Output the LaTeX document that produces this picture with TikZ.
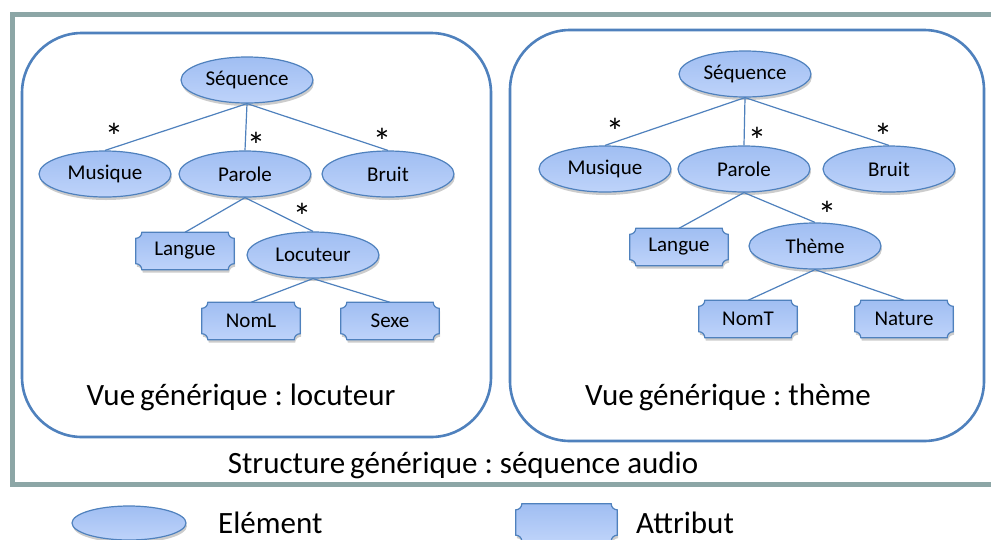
\documentclass[tikz,border=0pt]{standalone}
\usepackage{fontspec}
\setmainfont{Carlito}
\usetikzlibrary{shapes.geometric,shadows}
\definecolor{lineblue}{RGB}{79,129,189}
\definecolor{framegray}{RGB}{140,166,166}
\definecolor{filltop}{RGB}{160,190,242}
\definecolor{fillbot}{RGB}{190,211,250}
\pgfdeclarelayer{back}
\pgfdeclarelayer{bg}
\pgfsetlayers{back,bg,main}
\frenchspacing
\newcommand\attrpath[2]{%
  \path[#1] ([xshift=6pt]#2.north west) -- ([xshift=-6pt]#2.north east)
    arc[start angle=180,end angle=270,radius=6pt] -- ([yshift=6pt]#2.south east)
    arc[start angle=90,end angle=180,radius=6pt] -- ([xshift=6pt]#2.south west)
    arc[start angle=0,end angle=90,radius=6pt] -- ([yshift=-6pt]#2.north west)
    arc[start angle=270,end angle=360,radius=6pt] -- cycle;}
\newcommand\attrframe[1]{%
  \begin{pgfonlayer}{bg}
    \begin{scope}[transform canvas={shift={(1pt,-3pt)}}]
      \attrpath{fill=black,opacity=0.2}{#1}
    \end{scope}
    \attrpath{attrshape}{#1}
  \end{pgfonlayer}}
\tikzset{
  elem/.style={ellipse, draw=lineblue, line width=1.2pt, top color=filltop,
    bottom color=fillbot, minimum width=132pt, minimum height=46pt, inner sep=0pt,
    font=\fontsize{21}{25}\selectfont,
    drop shadow={shadow xshift=1pt, shadow yshift=-3pt, opacity=0.2, fill=black}},
  attr/.style={rectangle, minimum width=98pt, minimum height=37pt, inner sep=0pt,
    font=\fontsize{21}{25}\selectfont},
  attrshape/.style={draw=lineblue, line width=1.2pt, top color=filltop, bottom color=fillbot},
  link/.style={draw=lineblue, line width=1.2pt},
  star/.style={font=\fontsize{37}{38}\selectfont, inner sep=0pt, text height=33.5pt,
    text depth=-22pt, anchor=center},
  panel/.style={draw=lineblue, line width=2.6pt, rounded corners=60pt},
  big/.style={font=\fontsize{31}{34}\selectfont, inner sep=0pt, anchor=base}
}
\begin{document}
\begin{tikzpicture}[x=1pt,y=-1pt]
\useasboundingbox (0,0) rectangle (991,539);
\clip (0,0) rectangle (991,539);
\begin{pgfonlayer}{back}
\fill[white] (0,0) rectangle (991,539);
\end{pgfonlayer}
\draw[framegray, line width=5pt] (12.5,14.5) rectangle (1010,484.5);
\draw[panel] (22,33) rectangle (491,437);
\draw[panel] (510,30) rectangle (984,441);

% left panel
\node[elem] (lseq) at (247,80) {Séquence};
\node[elem] (lmus) at (105,174) {Musique};
\node[elem] (lpar) at (245,174) {Parole};
\node[elem] (lbru) at (388,174) {Bruit};
\node[attr] (llan) at (185,251) {Langue};
\node[elem] (lloc) at (313,255) {Locuteur};
\node[attr] (lnom) at (251,321) {NomL};
\node[attr] (lsex) at (390,321) {Sexe};
\attrframe{llan}\attrframe{lnom}\attrframe{lsex}
\draw[link] (lseq.south) -- (lmus.north);
\draw[link] (lseq.south) -- (lpar.north);
\draw[link] (lseq.south) -- (lbru.north);
\draw[link] (lpar.south) -- (llan.north);
\draw[link] (lpar.south) -- (lloc.north);
\draw[link] (lloc.south) -- (lnom.north);
\draw[link] (lloc.south) -- (lsex.north);
\node[star] (ls1) at (114,133) {*};
\node[star] (ls2) at (256,142) {*};
\node[star] (ls3) at (382,138) {*};
\node[star] (ls4) at (302,213) {*};
\node[big] (lvue) at (241,405) {Vue\kern-2pt{} générique : locuteur};

% right panel
\node[elem] (rseq) at (745,74) {Séquence};
\node[elem] (rmus) at (605,169) {Musique};
\node[elem] (rpar) at (744,169) {Parole};
\node[elem] (rbru) at (889,169) {Bruit};
\node[attr] (rlan) at (679,247) {Langue};
\node[elem] (rthe) at (815,246) {Thème};
\node[attr] (rnom) at (748,319) {NomT};
\node[attr] (rnat) at (904,319) {Nature};
\attrframe{rlan}\attrframe{rnom}\attrframe{rnat}
\draw[link] (rseq.south) -- (rmus.north);
\draw[link] (rseq.south) -- (rpar.north);
\draw[link] (rseq.south) -- (rbru.north);
\draw[link] (rpar.south) -- (rlan.north);
\draw[link] (rpar.south) -- (rthe.north);
\draw[link] (rthe.south) -- (rnom.north);
\draw[link] (rthe.south) -- (rnat.north);
\node[star] (rs1) at (615,128) {*};
\node[star] (rs2) at (757,137) {*};
\node[star] (rs3) at (883,133) {*};
\node[star] (rs4) at (827,211) {*};
\node[big] (rvue) at (728,405) {Vue\kern-2pt{} générique : thème};

\node[big] (struct) at (463,473) {Structure\kern-2pt{} générique : séquence audio};

% legend
\node[elem, minimum width=114pt, minimum height=34pt] (legel) at (129,523) {};
\node[attr, minimum width=101pt] (legat) at (566.5,522.5) {};
\attrframe{legat}
\node[big, anchor=base west] (legelt) at (218,533) {Elément};
\node[big, anchor=base west] (legatt) at (636,533) {Attribut};
\end{tikzpicture}
\end{document}
